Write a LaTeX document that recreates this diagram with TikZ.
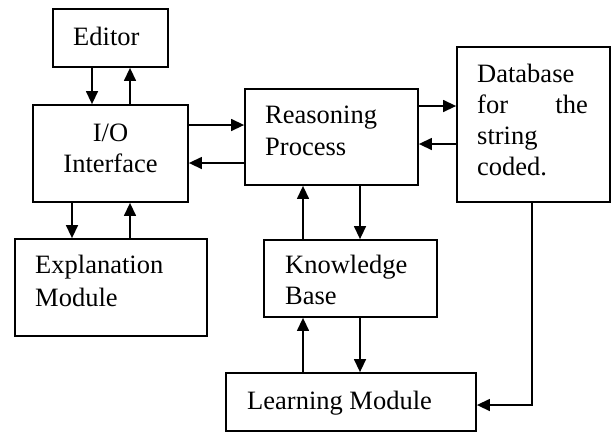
\documentclass[tikz,border=0pt]{standalone}
\usepackage{fontspec}
\setmainfont{Liberation Serif}
\usetikzlibrary{arrows.meta}
\begin{document}
\begin{tikzpicture}[x=1pt,y=-1pt,
  box/.style={draw, line width=1.8pt, inner sep=0pt},
  txt/.style={inner sep=0pt, font=\fontsize{26.5}{31}\selectfont, anchor=base west},
  link/.style={line width=1.4pt, -{Triangle[length=13pt,width=12pt]}}]
\useasboundingbox (0,0) rectangle (612,432);

% boxes
\node[box, minimum width=115pt, minimum height=58pt] (ed) at (110.5,38) {};
\node[box, minimum width=155pt, minimum height=97pt] (io) at (110.5,153.5) {};
\node[box, minimum width=173pt, minimum height=96pt] (re) at (331.5,137) {};
\node[box, minimum width=153pt, minimum height=155pt] (db) at (533.5,124.5) {};
\node[box, minimum width=192pt, minimum height=97pt] (ex) at (111,287.5) {};
\node[box, minimum width=173pt, minimum height=77pt] (kb) at (350.5,278.5) {};
\node[box, minimum width=250pt, minimum height=58pt] (lm) at (351,402) {};

% labels
\node[txt] (t-ed) at (73,45) {Editor};
\node[txt, anchor=base] (t-io1) at (110.5,141) {I/O};
\node[txt, anchor=base] (t-io2) at (110.5,172) {Interface};
\node[txt] (t-re1) at (265,123) {Reasoning};
\node[txt] (t-re2) at (265,155) {Process};
\node[txt] (t-db1) at (477,82) {Database};
\node[txt] (t-db2) at (477,113) {for};
\node[txt, anchor=base east] (t-db3) at (588,113) {the};
\node[txt] (t-db4) at (477,144) {string};
\node[txt] (t-db5) at (477,175) {coded.};
\node[txt] (t-ex1) at (35,273) {Explanation};
\node[txt] (t-ex2) at (35,306) {Module};
\node[txt] (t-kb1) at (285,273) {Knowledge};
\node[txt] (t-kb2) at (285,304) {Base};
\node[txt] (t-lm) at (247,409) {Learning Module};

% connectors
\draw[link] (ed.south -| 92,0) -- (io.north -| 92,0);
\draw[link] (io.north -| 130,0) -- (ed.south -| 130,0);
\draw[link] (io.east |- 0,125) -- (re.west |- 0,125);
\draw[link] (re.west |- 0,163) -- (io.east |- 0,163);
\draw[link] (re.east |- 0,106) -- (db.west |- 0,106);
\draw[link] (db.west |- 0,144) -- (re.east |- 0,144);
\draw[link] (kb.north -| 303,0) -- (re.south -| 303,0);
\draw[link] (re.south -| 360,0) -- (kb.north -| 360,0);
\draw[link] (io.south -| 72,0) -- (ex.north -| 72,0);
\draw[link] (ex.north -| 130,0) -- (io.south -| 130,0);
\draw[link] (lm.north -| 303,0) -- (kb.south -| 303,0);
\draw[link] (kb.south -| 360,0) -- (lm.north -| 360,0);
\draw[link] (db.south -| 532,0) |- (lm.east |- 0,405);
\end{tikzpicture}
\end{document}
